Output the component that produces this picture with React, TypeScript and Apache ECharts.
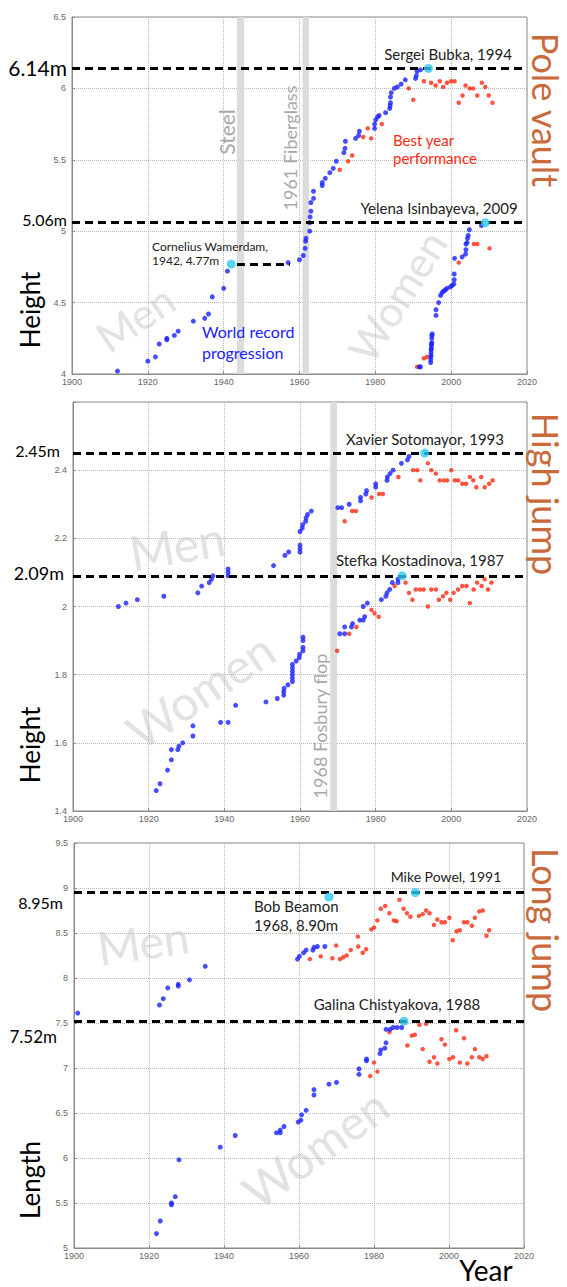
import React, { useEffect, useRef } from "react";
import * as echarts from "echarts";

// ---------- Pole vault ----------
const poleMenRecords: number[][] = [
  [1912, 4.02], [1920, 4.09], [1922, 4.12], [1923, 4.21], [1925, 4.24], [1925, 4.25],
  [1927, 4.27], [1928, 4.3], [1932, 4.37], [1935, 4.39], [1936, 4.42], [1937, 4.54],
  [1940, 4.6], [1941, 4.72], [1957, 4.78], [1960, 4.8], [1961, 4.83], [1961.5, 4.88],
  [1961.6, 4.93], [1961.7, 4.95], [1962.7, 5.0], [1962.7, 5.06], [1962.8, 5.1], [1963, 5.14],
  [1963, 5.2], [1963.7, 5.23], [1963.7, 5.28], [1966, 5.32], [1966, 5.34], [1966.8, 5.37],
  [1968, 5.41], [1968.9, 5.44], [1969.7, 5.49], [1971.7, 5.55], [1972, 5.58], [1972.1, 5.63],
  [1974.8, 5.65], [1975.6, 5.67], [1975.8, 5.7], [1979.8, 5.72], [1979.8, 5.75], [1980.1, 5.78],
  [1980.6, 5.8], [1981, 5.81], [1982.7, 5.83], [1983.8, 5.86], [1983.9, 5.88], [1984, 5.9],
  [1984, 5.94], [1984.2, 5.97], [1985, 6.0], [1985.8, 6.01], [1986.8, 6.03], [1987.9, 6.06],
  [1990.6, 6.07], [1990.8, 6.09], [1991, 6.12], [1991.9, 6.13],
];
const poleWomenRecords: number[][] = [
  [1991.6, 4.05], [1991.9, 4.05], [1994.6, 4.08], [1994.6, 4.1], [1994.6, 4.12], [1994.7, 4.13],
  [1994.7, 4.15], [1994.7, 4.17], [1994.8, 4.18], [1994.8, 4.2], [1994.8, 4.21], [1994.9, 4.22],
  [1994.9, 4.25], [1994.9, 4.27], [1995, 4.28], [1996, 4.41], [1996, 4.45], [1996.7, 4.5],
  [1997.2, 4.55], [1997.6, 4.57], [1998, 4.58], [1998.5, 4.59], [1998.9, 4.6], [1999.8, 4.61],
  [2000.2, 4.62], [2000.7, 4.63], [2000.8, 4.66], [2000.8, 4.7], [2000.9, 4.81], [2002.9, 4.82],
  [2003.8, 4.84], [2003.9, 4.87], [2003.9, 4.91], [2004.2, 4.92], [2004.3, 4.95], [2004.5, 4.97],
  [2004.8, 5.01], [2008, 5.04],
];
const poleBestYear: number[][] = [
  [1970.6, 5.43], [1972.8, 5.49], [1973.9, 5.53], [1976.8, 5.66], [1978, 5.72], [1978.9, 5.65],
  [1981.7, 5.75], [1988.8, 6.0], [1990, 5.92], [1992.8, 6.05], [1994.7, 6.04], [1995.9, 6.02],
  [1997, 6.05], [1997.9, 6.01], [1998.9, 6.04], [2000, 6.05], [2000.9, 6.05], [2002, 5.9],
  [2003, 5.95], [2003.8, 6.02], [2004.9, 6.0], [2005.8, 6.0], [2006.9, 5.95], [2008.1, 6.04],
  [2009, 6.01], [2009.9, 5.95], [2010.9, 5.9],
  [1991, 4.05], [1992.8, 4.11], [1993.6, 4.12], [2002, 4.78], [2006, 4.91], [2006.9, 4.91],
  [2010.1, 4.88],
];
const poleHolders: number[][] = [[1942, 4.77], [1994, 6.14], [2009, 5.06]];
const poleRefLines = [6.14, 5.06];
const poleWarmerdamSpan = [1943.5, 1957.5];
const poleBands: number[][] = [[1943.5, 1945.4], [1960.8, 1962.5]];

// ---------- High jump ----------
const highMenRecords: number[][] = [
  [1912, 2.0], [1914, 2.01], [1917, 2.02], [1924, 2.03], [1933, 2.04], [1934, 2.06],
  [1936, 2.07], [1936.6, 2.08], [1937, 2.09], [1941, 2.09], [1941, 2.1], [1941, 2.11],
  [1953, 2.12], [1956, 2.15], [1957, 2.16], [1960, 2.16], [1960, 2.17], [1960, 2.18],
  [1960, 2.22], [1960.6, 2.23], [1960.7, 2.24], [1961.5, 2.25], [1961.6, 2.26], [1962, 2.27],
  [1963, 2.28], [1970, 2.29], [1971, 2.29], [1973, 2.3], [1976, 2.31], [1976, 2.32],
  [1977.4, 2.33], [1977.6, 2.34], [1980, 2.35], [1980, 2.36], [1983, 2.37], [1983.1, 2.38],
  [1983.8, 2.39], [1984.6, 2.4], [1986.8, 2.42], [1988.4, 2.43], [1988.8, 2.44],
];
const highWomenRecords: number[][] = [
  [1922, 1.46], [1923, 1.48], [1925, 1.52], [1926, 1.55], [1926, 1.58], [1927.7, 1.58],
  [1928, 1.59], [1929, 1.6], [1931.7, 1.62], [1931.7, 1.65], [1939, 1.66], [1941, 1.66],
  [1943, 1.71], [1951, 1.72], [1954, 1.73], [1955.7, 1.74], [1955.7, 1.75], [1955.8, 1.76],
  [1956.8, 1.77], [1958, 1.78], [1958, 1.79], [1958, 1.8], [1958, 1.81], [1958, 1.82],
  [1958, 1.83], [1959, 1.84], [1959.8, 1.85], [1959.9, 1.86], [1960.8, 1.87], [1960.8, 1.88],
  [1960.8, 1.9], [1960.8, 1.91], [1970.5, 1.92], [1971.8, 1.92], [1971.8, 1.94], [1973.6, 1.94],
  [1973.9, 1.95], [1975.8, 1.96], [1976.7, 1.96], [1977.1, 1.97], [1976.7, 2.0], [1977.8, 2.01],
  [1981.5, 2.02], [1982.7, 2.03], [1983, 2.04], [1983.7, 2.05], [1984.4, 2.07], [1985.9, 2.07],
  [1985.9, 2.08],
];
const highBestYear: number[][] = [
  [1971.8, 2.25], [1973.8, 2.28], [1974.8, 2.28], [1978.9, 2.32], [1980.9, 2.33], [1981.9, 2.33],
  [1986, 2.38], [1989.9, 2.4], [1991, 2.4], [1991.8, 2.37], [1993.8, 2.42], [1994.7, 2.4],
  [1995.9, 2.39], [1996.9, 2.37], [1998, 2.37], [1998.9, 2.37], [2000, 2.4], [2000.9, 2.37],
  [2001.8, 2.37], [2002.9, 2.36], [2003.9, 2.36], [2004.9, 2.38], [2005.8, 2.37], [2006.6, 2.35],
  [2007.9, 2.38], [2008.8, 2.35], [2010, 2.36], [2010.9, 2.37],
  [1969.8, 1.87], [1973, 1.92], [1974.9, 1.94], [1978.9, 1.99], [1979.7, 1.98], [1980.8, 1.97],
  [1985, 2.06], [1987.9, 2.07], [1988.8, 2.04], [1989.7, 2.02], [1990.6, 2.05], [1991.7, 2.05],
  [1992.7, 2.05], [1993.8, 2.0], [1994.7, 2.05], [1995.9, 2.05], [1996.7, 2.02], [1997.8, 2.03],
  [1998.7, 2.04], [1999.7, 2.02], [2000.6, 2.04], [2001.8, 2.05], [2002.9, 2.06], [2004, 2.06],
  [2004.9, 2.01], [2005.9, 2.05], [2006.8, 2.07], [2008, 2.06], [2008.8, 2.08], [2009.7, 2.05],
  [2010.6, 2.07],
];
const highHolders: number[][] = [[1993, 2.45], [1987, 2.09]];
const highRefLines = [2.45, 2.09];
const highBands: number[][] = [[1968, 1969.8]];

// ---------- Long jump ----------
const longMenRecords: number[][] = [
  [1901, 7.61], [1922.8, 7.7], [1923.8, 7.77], [1925, 7.89], [1927.8, 7.91], [1927.8, 7.93],
  [1930.8, 7.98], [1935, 8.13], [1959.6, 8.21], [1960.1, 8.24], [1961.2, 8.28], [1961.9, 8.31],
  [1963.7, 8.31], [1964, 8.34], [1964.9, 8.35], [1966.9, 8.35],
];
const longWomenRecords: number[][] = [
  [1922, 5.16], [1923, 5.3], [1926, 5.48], [1926, 5.5], [1927, 5.57], [1928, 5.98],
  [1939, 6.12], [1943, 6.25], [1954, 6.28], [1955, 6.28], [1955, 6.31], [1956, 6.35],
  [1959.8, 6.4], [1960.5, 6.42], [1960.7, 6.48], [1961.9, 6.53], [1964, 6.7], [1964, 6.76],
  [1968, 6.82], [1970, 6.84], [1976, 6.93], [1976, 6.99], [1978, 7.08], [1978, 7.1],
  [1981.6, 7.16], [1981.8, 7.2], [1982.9, 7.22], [1983.2, 7.28], [1983.2, 7.43], [1984.3, 7.43],
  [1985.1, 7.45], [1986.2, 7.45], [1987.4, 7.45],
];
const longBestYear: number[][] = [
  [1962.9, 8.21], [1965.8, 8.24], [1968.9, 8.22], [1969.9, 8.36], [1970.9, 8.21], [1971.8, 8.23],
  [1972.7, 8.25], [1973.8, 8.31], [1975.7, 8.46], [1975.8, 8.35], [1977, 8.28], [1977.9, 8.32],
  [1979.3, 8.54], [1980, 8.56], [1980.9, 8.64], [1981.8, 8.77], [1983, 8.8], [1984.1, 8.72],
  [1985.3, 8.64], [1986, 8.63], [1986.8, 8.87], [1987.9, 8.77], [1988.8, 8.72], [1989.7, 8.68],
  [1992, 8.69], [1993, 8.71], [1993.9, 8.75], [1994.8, 8.72], [1996, 8.59], [1996.9, 8.65],
  [1998, 8.62], [1998.9, 8.62], [2000.1, 8.67], [2001, 8.42], [2002, 8.52], [2002.9, 8.53],
  [2004, 8.62], [2004.9, 8.62], [2006.1, 8.58], [2006.9, 8.67], [2008.1, 8.74], [2009, 8.75],
  [2010, 8.47], [2010.7, 8.53],
  [1979, 6.91], [1980, 7.06], [1980.9, 6.96], [1984.1, 7.4], [1988.9, 7.25], [1990.1, 7.36],
  [1990.9, 7.37], [1992.1, 7.48], [1993.9, 7.49], [1993, 7.21], [1994.8, 7.07], [1996, 7.12],
  [1996.9, 7.05], [1998, 7.32], [1998.9, 7.26], [2000.1, 7.1], [2001.1, 7.12], [2001.9, 7.42],
  [2002.9, 7.06], [2004, 7.33], [2004.9, 7.05], [2006.1, 7.12], [2006.9, 7.21], [2008.1, 7.12],
  [2009, 7.1], [2010, 7.13],
];
const longHolders: number[][] = [[1968, 8.9], [1991, 8.95], [1988, 7.52]];
const longRefLines = [8.95, 7.52];

// ---------- Axes ----------
const yearTicks = { min: 1900, max: 2020, interval: 20 };
const heightScalePole = { min: 4, max: 6.5, interval: 0.5 };
const heightScaleHigh = { min: 1.4, max: 2.6, interval: 0.2 };
const lengthScaleLong = { min: 5, max: 9.5, interval: 0.5 };

const FONT = "Lato, 'Open Sans', sans-serif";
const TICK_FONT = "'Liberation Sans', Arial, sans-serif";
const BLUE = "#1a22ff";
const RED = "#ff2a10";
const CYAN = "#2fc8f0";
const TITLE = "#c96a3c";
const WATERMARK = "#e2e2e2";
const BAND = "#dcdcdc";

const grids = [
  { left: 72, top: 17, width: 455, height: 357 },
  { left: 73, top: 402, width: 454, height: 409 },
  { left: 74, top: 843, width: 450, height: 405 },
];

function xAxisFor(i: number) {
  return {
    type: "value",
    gridIndex: i,
    ...yearTicks,
    axisLine: { show: true, lineStyle: { color: "#8a8a8a", width: 1 } },
    axisTick: { show: true, inside: true, length: 3, lineStyle: { color: "#8a8a8a" } },
    axisLabel: {
      fontSize: 9,
      color: "#666",
      fontFamily: TICK_FONT,
      margin: 3,
      formatter: (v: number) => String(Math.round(v)),
    },
    splitLine: { show: true, lineStyle: { color: "#b8b8b8", type: "dotted", width: 1 } },
  };
}

function yAxisFor(i: number, scale: any, hideTop: boolean) {
  return {
    type: "value",
    gridIndex: i,
    ...scale,
    axisLine: { show: true, lineStyle: { color: "#8a8a8a", width: 1 } },
    axisTick: { show: true, inside: true, length: 3, lineStyle: { color: "#8a8a8a" } },
    axisLabel: {
      fontSize: 9,
      color: "#666",
      fontFamily: TICK_FONT,
      margin: 6,
      formatter: (v: number) => (hideTop && Math.abs(v - scale.max) < 1e-6 ? "" : String(+v.toFixed(2))),
    },
    splitLine: { show: true, lineStyle: { color: "#b8b8b8", type: "dotted", width: 1 } },
  };
}

const dashStyle = { color: "#000", width: 3, type: [8, 5] as number[] };

function panelSeries(
  i: number,
  records: number[][],
  best: number[][],
  holders: number[][],
  refLines: number[],
  bands: number[][],
  extraSegments: any[] = []
) {
  return [
    {
      type: "line",
      xAxisIndex: i,
      yAxisIndex: i,
      data: [],
      z: 1,
      silent: true,
      markArea: {
        silent: true,
        itemStyle: { color: BAND },
        data: bands.map((b) => [{ xAxis: b[0] }, { xAxis: b[1] }]),
      },
    },
    {
      type: "scatter",
      xAxisIndex: i,
      yAxisIndex: i,
      data: best,
      symbolSize: 4.5,
      itemStyle: { color: RED },
      z: 3,
      silent: true,
    },
    {
      type: "scatter",
      xAxisIndex: i,
      yAxisIndex: i,
      data: records,
      symbolSize: 5,
      itemStyle: { color: BLUE },
      z: 4,
      silent: true,
    },
    {
      type: "line",
      xAxisIndex: i,
      yAxisIndex: i,
      data: [],
      z: 5,
      silent: true,
      markLine: {
        silent: true,
        symbol: "none",
        label: { show: false },
        lineStyle: dashStyle,
        data: [...refLines.map((v) => ({ yAxis: v })), ...extraSegments],
      },
    },
    {
      type: "scatter",
      xAxisIndex: i,
      yAxisIndex: i,
      data: holders,
      symbolSize: 9,
      itemStyle: { color: CYAN },
      z: 6,
      silent: true,
    },
  ];
}

function txt(
  text: string,
  x: number,
  y: number,
  size: number,
  fill: string,
  opts: { rotation?: number; align?: string; valign?: string; z?: number; lineHeight?: number } = {}
) {
  const align = opts.align || "center";
  const valign = opts.valign || "middle";
  return {
    type: "text",
    x,
    y,
    rotation: opts.rotation || 0,
    z: opts.z ?? 100,
    silent: true,
    style: {
      text,
      fill,
      fontSize: size,
      fontFamily: FONT,
      align,
      textAlign: align,
      verticalAlign: valign,
      textVerticalAlign: valign,
      lineHeight: opts.lineHeight,
    },
  };
}

const deg = (d: number) => (d * Math.PI) / 180;

export default function App() {
  const ref = useRef<HTMLDivElement>(null);

  useEffect(() => {
    if (!ref.current) return;
    const chart = echarts.init(ref.current, null, { renderer: "svg" });

    const graphics = [
      // watermarks
      txt("Men", 135, 318, 42, WATERMARK, { rotation: deg(34), z: 0 }),
      txt("Women", 397, 296, 42, WATERMARK, { rotation: deg(58), z: 0 }),
      txt("Men", 177, 545, 48, WATERMARK, { rotation: deg(10), z: 0 }),
      txt("Women", 200, 690, 48, WATERMARK, { rotation: deg(34), z: 0 }),
      txt("Men", 143, 942, 46, WATERMARK, { rotation: deg(8), z: 0 }),
      txt("Women", 315, 1148, 48, WATERMARK, { rotation: deg(36), z: 0 }),

      // band labels
      txt("Steel", 226, 132, 21, "#a8a8a8", { rotation: deg(90), z: 2 }),
      txt("1961 Fiberglass", 290, 148, 18, "#a8a8a8", { rotation: deg(90), z: 2 }),
      txt("1968 Fosbury flop", 320, 726, 18, "#a8a8a8", { rotation: deg(90), z: 2 }),

      // axis names
      txt("Height", 30, 310, 26, "#000", { rotation: deg(90) }),
      txt("Height", 30, 745, 26, "#000", { rotation: deg(90) }),
      txt("Length", 30, 1180, 26, "#000", { rotation: deg(90) }),
      txt("Year", 486, 1270, 28, "#000"),

      // event titles
      txt("Pole vault", 546, 110, 36, TITLE, { rotation: deg(-90) }),
      txt("High jump", 546, 494, 36, TITLE, { rotation: deg(-90) }),
      txt("Long jump", 546, 930, 36, TITLE, { rotation: deg(-90) }),

      // record labels at the left
      txt("6.14m", 67, 67, 21, "#000", { align: "right" }),
      txt("5.06m", 67, 219, 16, "#000", { align: "right" }),
      txt("2.45m", 60, 450, 16, "#000", { align: "right" }),
      txt("2.09m", 64, 573, 18, "#000", { align: "right" }),
      txt("8.95m", 63, 902, 16, "#000", { align: "right" }),
      txt("7.52m", 57, 1036, 17, "#000", { align: "right" }),

      // annotations
      txt("Sergei Bubka, 1994", 448, 54, 15, "#222"),
      txt("Best year\nperformance", 393, 149, 15, RED, { align: "left", lineHeight: 18 }),
      txt("Yelena Isinbayeva, 2009", 439, 208, 15, "#222"),
      txt("Cornelius Wamerdam,\n1942, 4.77m", 152, 253, 12, "#222", { align: "left", lineHeight: 14 }),
      txt("World record\nprogression", 202, 342, 16, BLUE, { align: "left", lineHeight: 21 }),
      txt("Xavier Sotomayor, 1993", 425, 439, 15, "#222"),
      txt("Stefka Kostadinova, 1987", 420, 560, 15, "#222"),
      txt("Mike Powel, 1991", 446, 876, 14, "#222"),
      txt("Bob Beamon\n1968, 8.90m", 254, 915, 15, "#222", { align: "left", lineHeight: 19 }),
      txt("Galina Chistyakova, 1988", 397, 1004, 15, "#222"),
    ];

    chart.setOption({
      animation: false,
      textStyle: { fontFamily: FONT },
      grid: grids.map((g) => ({
        ...g,
        show: true,
        borderColor: "#8a8a8a",
        borderWidth: 1,
        backgroundColor: "transparent",
        containLabel: false,
      })),
      xAxis: [xAxisFor(0), xAxisFor(1), xAxisFor(2)],
      yAxis: [
        yAxisFor(0, heightScalePole, false),
        yAxisFor(1, heightScaleHigh, true),
        yAxisFor(2, lengthScaleLong, false),
      ],
      series: [
        ...panelSeries(0, [...poleMenRecords, ...poleWomenRecords], poleBestYear, poleHolders, poleRefLines, poleBands, [
          [
            { coord: [poleWarmerdamSpan[0], poleHolders[0][1]] },
            { coord: [poleWarmerdamSpan[1], poleHolders[0][1]] },
          ],
        ]),
        ...panelSeries(1, [...highMenRecords, ...highWomenRecords], highBestYear, highHolders, highRefLines, highBands),
        ...panelSeries(2, [...longMenRecords, ...longWomenRecords], longBestYear, longHolders, longRefLines, []),
      ],
      graphic: { elements: graphics },
    });

    return () => chart.dispose();
  }, []);

  return (
    <div
      ref={ref}
      style={{ position: "absolute", left: 0, top: 0, width: 567, height: 1287, background: "#fff" }}
    />
  );
}
